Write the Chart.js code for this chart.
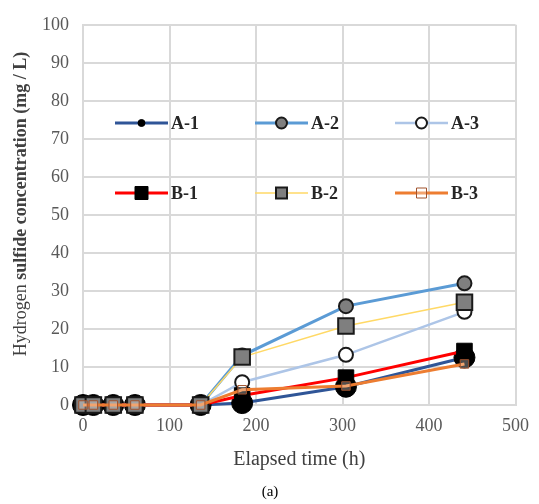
<!DOCTYPE html>
<html>
<head>
<meta charset="utf-8">
<script src="https://cdn.jsdelivr.net/npm/chart.js@4.4.1/dist/chart.umd.min.js"></script>
<style>
    html, body { margin: 0; padding: 0; background: #fff; }
    #wrap { width: 539px; height: 504px; position: relative; }
</style>
</head>
<body>
<div id="wrap"><canvas id="h2sChart"></canvas></div>
<script>
// ====== DATA ======
const elapsedHours = [0, 12, 35, 60, 136, 184, 304, 441];
const seriesNames = ["A-1", "A-2", "A-3", "B-1", "B-2", "B-3"];
const a1 = [0, 0, 0, 0, 0, 0.5, 4.8, 12.5];
const a2 = [0, 0, 0, 0, 0, 13, 26, 32];
const a3 = [0, 0, 0, 0, 0, 6, 13.2, 24.5];
const b1 = [0, 0, 0, 0, 0, 2.5, 7.2, 14.2];
const b2 = [0, 0, 0, 0, 0, 12.6, 20.8, 27];
const b3 = [0, 0, 0, 0, 0, 4, 5, 10.8];
const xTickValues = [0, 100, 200, 300, 400, 500];
const yTickValues = [0, 10, 20, 30, 40, 50, 60, 70, 80, 90, 100];

const serif = '"Liberation Serif", "Times New Roman", serif';

function pts(values) {
    return elapsedHours.map((h, i) => ({ x: h, y: values[i] }));
}

// legend drawn inside the plot area, two rows of three
const insideLegend = {
    id: 'insideLegend',
    afterDraw(chart) {
        const ctx = chart.ctx;
        const cols = [115, 255, 395];
        const rows = [123, 193];
        chart.data.datasets.forEach((ds, i) => {
            const x0 = cols[i % 3];
            const y = rows[Math.floor(i / 3)];
            const len = 53;
            ctx.save();
            ctx.strokeStyle = ds.borderColor;
            ctx.lineWidth = ds.borderWidth;
            ctx.beginPath();
            ctx.moveTo(x0, y);
            ctx.lineTo(x0 + len, y);
            ctx.stroke();

            const cx = x0 + len / 2;
            const r = ds.legendRadius;
            ctx.fillStyle = ds.pointBackgroundColor;
            ctx.strokeStyle = ds.pointBorderColor;
            ctx.lineWidth = ds.pointBorderWidth;
            ctx.beginPath();
            if (ds.pointStyle === 'rect') {
                ctx.rect(cx - r, y - r, 2 * r, 2 * r);
            } else {
                ctx.arc(cx, y, r, 0, Math.PI * 2);
            }
            ctx.fill();
            if (ds.pointBorderWidth > 0) ctx.stroke();

            ctx.fillStyle = '#262626';
            ctx.font = 'bold 18px ' + serif;
            ctx.textBaseline = 'middle';
            ctx.textAlign = 'left';
            ctx.fillText(ds.label, x0 + len + 3, y + 1);
            ctx.restore();
        });

        // y axis title, first word normal and the rest bold
        ctx.save();
        ctx.translate(21, 204);
        ctx.rotate(-Math.PI / 2);
        ctx.textBaseline = 'middle';
        ctx.textAlign = 'left';
        ctx.fillStyle = '#404040';
        const part1 = 'Hydrogen ';
        const part2 = 'sulfide concentration (mg / L)';
        ctx.font = '18px ' + serif;
        const w1 = ctx.measureText(part1).width;
        ctx.font = 'bold 18px ' + serif;
        const w2 = ctx.measureText(part2).width;
        let start = -(w1 + w2) / 2;
        ctx.font = '18px ' + serif;
        ctx.fillText(part1, start, 0);
        ctx.font = 'bold 18px ' + serif;
        ctx.fillText(part2, start + w1, 0);
        ctx.restore();

        // panel caption
        ctx.save();
        ctx.font = '15px ' + serif;
        ctx.fillStyle = '#000';
        ctx.textAlign = 'center';
        ctx.textBaseline = 'middle';
        ctx.fillText('(a)', 270, 492);
        ctx.restore();
    }
};

const canvas = document.getElementById('h2sChart');
new Chart(canvas.getContext('2d'), {
    type: 'line',
    data: {
        datasets: [
            {
                label: seriesNames[0], data: pts(a1), order: 6,
                borderColor: '#2f5597', borderWidth: 3,
                pointStyle: 'circle', pointRadius: 10.5,
                pointBackgroundColor: '#000', pointBorderColor: '#000', pointBorderWidth: 1,
                legendRadius: 3.5
            },
            {
                label: seriesNames[1], data: pts(a2), order: 4,
                borderColor: '#5b9bd5', borderWidth: 3,
                pointStyle: 'circle', pointRadius: 7,
                pointBackgroundColor: '#7f7f7f', pointBorderColor: '#1a1a1a', pointBorderWidth: 2,
                legendRadius: 5.5
            },
            {
                label: seriesNames[2], data: pts(a3), order: 5,
                borderColor: '#adc5e7', borderWidth: 2.5,
                pointStyle: 'circle', pointRadius: 7,
                pointBackgroundColor: '#fff', pointBorderColor: '#1a1a1a', pointBorderWidth: 2,
                legendRadius: 5.5
            },
            {
                label: seriesNames[3], data: pts(b1), order: 3,
                borderColor: '#ff0000', borderWidth: 3,
                pointStyle: 'rect', pointRadius: 11,
                pointBackgroundColor: '#000', pointBorderColor: '#000', pointBorderWidth: 1,
                legendRadius: 6.5
            },
            {
                label: seriesNames[4], data: pts(b2), order: 2,
                borderColor: '#ffd966', borderWidth: 1.5,
                pointStyle: 'rect', pointRadius: 11,
                pointBackgroundColor: '#7f7f7f', pointBorderColor: '#1a1a1a', pointBorderWidth: 2,
                legendRadius: 5.5
            },
            {
                label: seriesNames[5], data: pts(b3), order: 1,
                borderColor: '#ed7d31', borderWidth: 3,
                pointStyle: 'rect', pointRadius: 6,
                pointBackgroundColor: 'rgba(255,255,255,0.3)', pointBorderColor: '#a0522d', pointBorderWidth: 1,
                legendRadius: 5
            }
        ]
    },
    options: {
        responsive: true,
        maintainAspectRatio: false,
        animation: false,
        layout: { padding: { top: 19, right: 17, left: 0, bottom: 0 } },
        datasets: { line: { clip: false } },
        plugins: {
            legend: { display: false },
            tooltip: { enabled: false }
        },
        elements: { line: { tension: 0 } },
        scales: {
            x: {
                type: 'linear',
                min: 0, max: 500,
                afterBuildTicks: s => { s.ticks = xTickValues.map(v => ({ value: v })); },
                afterFit: s => { s.height = 99; },
                grid: { color: '#d9d9d9', lineWidth: 2, drawTicks: false },
                border: { color: '#d9d9d9', width: 2 },
                ticks: { color: '#595959', font: { family: serif, size: 18 }, padding: 10 },
                title: {
                    display: true, text: 'Elapsed time (h)', color: '#404040',
                    font: { family: serif, size: 20 }, padding: { top: 0, bottom: 32 }
                }
            },
            y: {
                min: 0, max: 100,
                afterBuildTicks: s => { s.ticks = yTickValues.map(v => ({ value: v })); },
                afterFit: s => { s.width = 83; },
                grid: { color: '#d9d9d9', lineWidth: 2, drawTicks: false },
                border: { color: '#d9d9d9', width: 2 },
                ticks: { color: '#595959', font: { family: serif, size: 18 }, padding: 14 }
            }
        }
    },
    plugins: [insideLegend]
});
</script>
</body>
</html>
